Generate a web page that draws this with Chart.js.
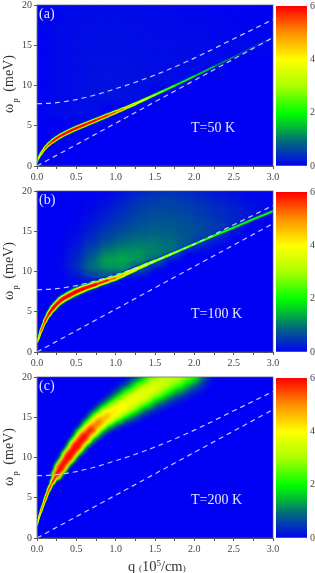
<!DOCTYPE html>
<html>
<head>
<meta charset="utf-8">
<script src="https://cdn.jsdelivr.net/npm/chart.js@4"></script>
<style>
  html, body { margin: 0; padding: 0; background: #fff; }
  body { position: relative; width: 315px; height: 573px; overflow: hidden; font-family: "Liberation Serif", serif; }
  canvas { position: absolute; }
  .label { position: absolute; white-space: nowrap; line-height: 1; }
  .inPlot { color: #e2e6ff; font-size: 14px; transform: translateY(-50%); }
  .yTitle { color: #333; font-size: 14px; transform: translate(-50%, -50%) rotate(-90deg); }
  .yTitle sub { font-size: 9px; vertical-align: -5px; margin: 0 3px 0 1px; }
  .xTitle { color: #333; font-size: 14.5px; transform: translateY(-50%); }
  .xTitle sup { font-size: 9px; vertical-align: 5px; }
  .xTitle small { font-size: 9px; }
</style>
</head>
<body>
<script>
// dashed reference curves, same in all panels
const upperQ = [0, 0.1, 0.25, 0.5, 0.75, 1, 1.25, 1.5, 2, 2.5, 3];
const upperOmega = [7.75, 7.77, 7.87, 8.25, 8.85, 9.6, 10.4, 11.3, 13.4, 15.8, 18.2];
const lowerQ = [0, 3];
const lowerOmega = [0, 15.95];

// ridge of panel (a), T=50 K, peak may go over the colour scale (saturates red)
const ridgeQA = [0, 0.02, 0.05, 0.1, 0.15, 0.2, 0.3, 0.4, 0.5, 0.6, 0.75, 0.9, 1, 1.1, 1.25, 1.4, 1.5, 1.6, 1.75, 2, 2.25, 2.5, 2.75, 3];
const ridgeOmegaA = [0.5, 1, 1.5, 2.2, 2.7, 3.1, 3.75, 4.25, 4.7, 5.1, 5.7, 6.3, 6.7, 7.1, 7.73, 8.4, 8.85, 9.3, 9.98, 11.15, 12.35, 13.55, 14.78, 16];
const ridgePeakA = [2, 3.5, 4.5, 5.4, 5.9, 6.2, 6.5, 6.6, 6.6, 6.5, 6.3, 5.9, 5.5, 5, 4.3, 3.6, 3.2, 2.9, 2.5, 2.1, 1.4, 1, 0.7, 0.45];
const ridgeWidthA = [1.5, 2, 2.2, 2.6, 3, 3.4, 3.8, 3.8, 3.8, 3.8, 3.6, 3.4, 3.1, 2.9, 2.6, 2.4, 2.3, 2.2, 2, 1.9, 1.9, 2.1, 2.4, 2.8];

// ridge of panel (b), T=100 K
const ridgeQB = [0, 0.02, 0.05, 0.1, 0.15, 0.2, 0.3, 0.4, 0.5, 0.6, 0.75, 0.9, 1, 1.1, 1.25, 1.4, 1.5, 1.75, 2, 2.25, 2.5, 2.75, 3];
const ridgeOmegaB = [1.2, 1.7, 2.6, 3.8, 4.7, 5.4, 6.4, 7, 7.5, 7.9, 8.4, 8.9, 9.2, 9.6, 10.25, 10.9, 11.3, 12.35, 13.4, 14.45, 15.45, 16.5, 17.5];
const ridgePeakB = [3.5, 4.5, 5.2, 5.9, 6.2, 6.5, 6.6, 6.6, 6.6, 6.5, 6.2, 5.6, 5, 4.7, 4.3, 3.9, 3.7, 3.1, 2.7, 2.5, 2.3, 2.2, 2.1];
const ridgeWidthB = [1.5, 1.8, 2.2, 3, 4, 5, 6, 6.5, 6.5, 6, 5.5, 5, 4.5, 4.2, 3.8, 3.2, 2.8, 2.5, 2.4, 2.4, 2.4, 2.4, 2.4];

// ridge of panel (c), T=200 K
const ridgeQC = [0, 0.02, 0.05, 0.1, 0.15, 0.2, 0.25, 0.3, 0.4, 0.5, 0.6, 0.7, 0.8, 0.9, 1, 1.1, 1.2, 1.35, 1.5, 1.6, 1.75, 1.9];
const ridgeOmegaC = [1.6, 2.4, 3.3, 4.7, 6, 7, 7.85, 8.7, 10.1, 11.4, 12.6, 13.6, 14.5, 15.2, 15.8, 16.4, 17, 17.9, 18.8, 19.4, 20.2, 21];
const ridgePeakC = [3.5, 4.5, 5, 5.5, 5.7, 5.8, 6, 6.3, 6.6, 6.5, 6.1, 5.5, 4.9, 4.5, 4.25, 4.05, 3.9, 3.8, 3.6, 3.5, 3.3, 3.1];
const ridgeWidthC = [1.5, 1.5, 2, 2.5, 3, 4, 6, 8, 10, 12, 14, 16, 18, 20, 22, 24, 26, 28, 30, 32, 34, 36];

// broad background cells, one row per omega, one column per heatQ
const heatQ = [0.1, 0.3, 0.5, 0.7, 0.9, 1.1, 1.3, 1.5, 1.7, 1.9, 2.1, 2.3, 2.5, 2.7, 2.9];
const heatOmegaA = [19, 17, 15, 13, 11, 9, 7];
const heatA = [
  [0.05, 0.08, 0.1, 0.12, 0.12, 0.12, 0.12, 0.1, 0.1, 0.08, 0.08, 0.05, 0.05, 0.05, 0.03],
  [0.05, 0.1, 0.12, 0.15, 0.15, 0.15, 0.14, 0.12, 0.12, 0.1, 0.1, 0.08, 0.06, 0.05, 0.05],
  [0.05, 0.1, 0.14, 0.16, 0.16, 0.16, 0.15, 0.14, 0.13, 0.12, 0.12, 0.1, 0.1, 0.08, 0.05],
  [0.05, 0.1, 0.14, 0.17, 0.18, 0.18, 0.16, 0.15, 0.14, 0.14, 0.12, 0.1, 0, 0, 0],
  [0.05, 0.1, 0.14, 0.18, 0.2, 0.2, 0.18, 0.16, 0.14, 0.1, 0, 0, 0, 0, 0],
  [0.05, 0.1, 0.14, 0.18, 0.2, 0.18, 0.14, 0, 0, 0, 0, 0, 0, 0, 0],
  [0.05, 0.1, 0.12, 0.14, 0, 0, 0, 0, 0, 0, 0, 0, 0, 0, 0]
];
const heatOmegaB = [19.5, 18.5, 17.5, 16.5, 15.5, 14.5, 13.5, 12.5, 11.5, 10.5, 9.5, 8.5];
const heatB = [
  [0, 0, 0.02, 0.05, 0.1, 0.25, 0.45, 0.6, 0.65, 0.55, 0.45, 0.3, 0.2, 0.1, 0.05],
  [0, 0, 0.03, 0.08, 0.2, 0.4, 0.6, 0.7, 0.75, 0.65, 0.55, 0.4, 0.3, 0.15, 0.1],
  [0, 0, 0.04, 0.12, 0.3, 0.5, 0.7, 0.8, 0.8, 0.75, 0.65, 0.5, 0.4, 0.25, 0.1],
  [0, 0, 0.05, 0.2, 0.4, 0.6, 0.8, 0.9, 0.9, 0.85, 0.7, 0.55, 0.45, 0.25, 0],
  [0, 0.01, 0.08, 0.3, 0.55, 0.75, 0.9, 1, 1, 0.9, 0.8, 0.65, 0.4, 0, 0],
  [0, 0.02, 0.15, 0.4, 0.7, 0.95, 1.05, 1.1, 1.05, 0.95, 0.85, 0.6, 0, 0, 0],
  [0, 0.03, 0.2, 0.55, 0.9, 1.1, 1.2, 1.25, 1.15, 1, 0.5, 0, 0, 0, 0],
  [0, 0.05, 0.3, 0.8, 1.2, 1.4, 1.45, 1.35, 1.2, 0, 0, 0, 0, 0, 0],
  [0, 0.05, 0.4, 1, 1.6, 1.7, 1.6, 1.2, 0, 0, 0, 0, 0, 0, 0],
  [0, 0.05, 0.5, 1.2, 1.6, 1.6, 1, 0, 0, 0, 0, 0, 0, 0, 0],
  [0, 0.05, 0.3, 0.9, 1, 0, 0, 0, 0, 0, 0, 0, 0, 0, 0],
  [0, 0.02, 0.1, 0.1, 0, 0, 0, 0, 0, 0, 0, 0, 0, 0, 0]
];

const colorStops = [[0, 0, 0, 245], [1, 0, 115, 115], [1.5, 0, 190, 50], [2, 0, 255, 0], [3, 170, 255, 0], [4, 255, 255, 0], [5, 255, 145, 0], [6, 255, 0, 0]];
const contourLevels = [0.15, 0.3, 0.5, 0.7, 0.9, 1.1, 1.3, 1.5, 1.75, 2, 2.25, 2.5, 2.75, 3, 3.25, 3.5, 3.75, 4, 4.25, 4.5, 4.75, 5, 5.25, 5.5, 5.75, 6];
const colorbarTicks = [0, 2, 4, 6];

function levelColor(v) {
    let i = 0;
    while (i < colorStops.length - 2 && v > colorStops[i + 1][0]) i++;
    const a = colorStops[i], b = colorStops[i + 1];
    const t = Math.min(1, (v - a[0]) / (b[0] - a[0]));
    return `rgb(${[1, 2, 3].map(k => Math.round(a[k] + (b[k] - a[k]) * t)).join(',')})`;
}

// ctx.filter per dataset, the original is a slightly blurry raster
const softDraw = {
    id: 'softDraw',
    beforeDraw(chart) {
        const a = chart.chartArea;
        chart.ctx.fillStyle = levelColor(0);
        chart.ctx.fillRect(a.left, a.top, a.right - a.left, a.bottom - a.top);
    },
    beforeDatasetDraw(chart, args) {
        const blur = chart.data.datasets[args.index].blur;
        if (blur) chart.ctx.filter = `blur(${blur}px)`;
    },
    afterDatasetDraw(chart) {
        chart.ctx.filter = 'none';
    },
    afterDraw(chart) {
        const a = chart.chartArea;
        chart.ctx.strokeStyle = 'rgba(90,90,110,0.7)';
        chart.ctx.lineWidth = 1;
        chart.ctx.strokeRect(a.left, a.top, a.right - a.left, a.bottom - a.top);
    }
};

function heatDataset(rows, omegas) {
    const cells = [], colors = [];
    const rowHeight = omegas.length > 1 ? Math.abs(omegas[0] - omegas[1]) : 1;
    rows.forEach((row, r) => row.forEach((v, c) => {
        if (!v) return;
        cells.push({ x: heatQ[c], y: [omegas[r] - rowHeight / 2, omegas[r] + rowHeight / 2] });
        colors.push(levelColor(v));
    }));
    return { type: 'bar', data: cells, backgroundColor: colors, barThickness: 17, grouped: false, order: 100, blur: 4 };
}

function ridgeDatasets(qs, omegas, peaks, widths, power, blur) {
    const points = qs.map((q, i) => ({ x: q, y: omegas[i] }));
    return contourLevels.map((level, n) => {
        const bandWidth = i => peaks[i] > level ? widths[i] * Math.pow(Math.log(peaks[i] / level), power) : 0;
        const segWidth = c => (bandWidth(c.p0DataIndex) + bandWidth(c.p1DataIndex)) / 2;
        return {
            type: 'line',
            data: points,
            pointRadius: 0,
            borderColor: levelColor(level),
            borderWidth: 1,
            borderCapStyle: 'round',
            borderJoinStyle: 'round',
            cubicInterpolationMode: 'monotone',
            order: 50 - n,
            blur: blur,
            segment: {
                borderWidth: c => Math.max(segWidth(c), 0.01),
                borderColor: c => segWidth(c) > 0 ? levelColor(level) : 'transparent'
            }
        };
    });
}

function dashedDataset(qs, omegas) {
    return {
        type: 'line',
        data: qs.map((q, i) => ({ x: q, y: omegas[i] })),
        pointRadius: 0,
        borderColor: 'rgba(215,222,255,0.9)',
        borderWidth: 1.2,
        borderDash: [5, 4],
        cubicInterpolationMode: 'monotone',
        order: 1
    };
}

function addCanvas(left, top, width, height) {
    const c = document.createElement('canvas');
    c.width = width;
    c.height = height;
    c.style.left = left + 'px';
    c.style.top = top + 'px';
    c.style.width = width + 'px';
    c.style.height = height + 'px';
    document.body.appendChild(c);
    return c;
}

function addLabel(cls, html, left, top) {
    const d = document.createElement('div');
    d.className = 'label ' + cls;
    d.innerHTML = html;
    d.style.left = left + 'px';
    d.style.top = top + 'px';
    document.body.appendChild(d);
}

const tickFont = { family: '"Liberation Serif"', size: 10 };

function drawPanel(top, heat, ridge) {
    const canvas = addCanvas(0, top - 8, 296, 190);
    new Chart(canvas, {
        type: 'bar',
        data: {
            datasets: [dashedDataset(upperQ, upperOmega), dashedDataset(lowerQ, lowerOmega)]
                .concat(ridge)
                .concat(heat ? [heat] : [])
        },
        options: {
            responsive: false,
            animation: false,
            layout: { padding: { top: 8, right: 23, left: 0, bottom: 0 } },
            plugins: { legend: { display: false }, tooltip: { enabled: false } },
            scales: {
                x: {
                    type: 'linear', min: 0, max: 3, offset: false,
                    grid: { drawOnChartArea: false, tickLength: 3, offset: false, color: '#555' },
                    border: { color: '#555' },
                    afterBuildTicks: s => { s.ticks = [0, 0.25, 0.5, 0.75, 1, 1.25, 1.5, 1.75, 2, 2.25, 2.5, 2.75, 3].map(v => ({ value: v })); },
                    ticks: {
                        autoSkip: false, maxRotation: 0, padding: 2, color: '#444', font: tickFont,
                        callback: v => (v * 2) % 1 === 0 ? v.toFixed(1) : ''
                    },
                    afterFit: s => { s.height = 21; }
                },
                y: {
                    min: 0, max: 20,
                    grid: { drawOnChartArea: false, tickLength: 3, color: '#555' },
                    border: { color: '#555' },
                    ticks: { stepSize: 5, padding: 2, color: '#444', font: tickFont },
                    afterFit: s => { s.width = 37; }
                }
            }
        },
        plugins: [softDraw]
    });
}

function drawColorbar(top) {
    const steps = [], colors = [];
    for (let i = 0; i < 120; i++) {
        steps.push({ x: 0, y: [i * 0.05, i * 0.05 + 0.07] });
        colors.push(levelColor(i * 0.05 + 0.025));
    }
    const canvas = addCanvas(276, top - 8, 44, 190);
    new Chart(canvas, {
        type: 'bar',
        data: { datasets: [{ data: steps, backgroundColor: colors, barThickness: 31, grouped: false }] },
        options: {
            responsive: false,
            animation: false,
            layout: { padding: { top: 8, bottom: 21, left: 0, right: 0 } },
            plugins: { legend: { display: false }, tooltip: { enabled: false } },
            scales: {
                x: { type: 'linear', min: -1, max: 1, display: false, offset: false },
                y: {
                    position: 'right', min: 0, max: 6,
                    grid: { drawOnChartArea: false, drawTicks: false },
                    border: { display: false },
                    afterBuildTicks: s => { s.ticks = colorbarTicks.map(v => ({ value: v })); },
                    ticks: { padding: 3, color: '#444', font: tickFont, callback: v => String(v) },
                    afterFit: s => { s.width = 13; }
                }
            }
        }
    });
}

const panelTops = [4.5, 190.5, 376.5];
drawPanel(panelTops[0], heatDataset(heatA, heatOmegaA), ridgeDatasets(ridgeQA, ridgeOmegaA, ridgePeakA, ridgeWidthA, 0.4, 0.6));
drawPanel(panelTops[1], heatDataset(heatB, heatOmegaB), ridgeDatasets(ridgeQB, ridgeOmegaB, ridgePeakB, ridgeWidthB, 0.4, 0.7));
// panel (c): thin low-q part stays sharp, the wide part gets more blur
const cSplit = 7;
drawPanel(panelTops[2], null,
    ridgeDatasets(ridgeQC.slice(0, cSplit + 1), ridgeOmegaC.slice(0, cSplit + 1), ridgePeakC.slice(0, cSplit + 1), ridgeWidthC.slice(0, cSplit + 1), 0.45, 0.5)
        .concat(ridgeDatasets(ridgeQC.slice(cSplit - 1), ridgeOmegaC.slice(cSplit - 1), ridgePeakC.slice(cSplit - 1), ridgeWidthC.slice(cSplit - 1), 0.45, 1.8)));
panelTops.forEach(t => drawColorbar(t));

['(a)', '(b)', '(c)'].forEach((t, i) => addLabel('inPlot', t, 39, [14, 200, 386][i]));
['T=50 K', 'T=100 K', 'T=200 K'].forEach((t, i) => addLabel('inPlot', t, 191, [128, 314, 500][i]));
[84, 271, 457].forEach(y => addLabel('yTitle', 'ω<sub>p</sub> (meV)', 11, y));
addLabel('xTitle', 'q <small>(</small>10<sup>5</sup>/cm<small>)</small>', 128, 566);
</script>
</body>
</html>
